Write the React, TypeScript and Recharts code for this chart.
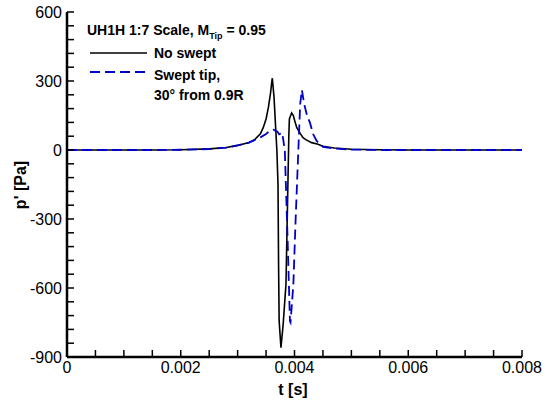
import { Line, LineChart, XAxis, YAxis } from "recharts";

// time [s] and pressure [Pa]
const noSweptT = [
  0, 0.0005, 0.001, 0.0015, 0.002, 0.0025, 0.0028, 0.003, 0.0032, 0.0033, 0.0034,
  0.00345, 0.0035, 0.00354, 0.00358, 0.0036, 0.00361, 0.00364, 0.00367, 0.00369,
  0.00371, 0.00372, 0.00373, 0.003762, 0.0038, 0.00385, 0.00388, 0.0039, 0.00391,
  0.00395, 0.00398, 0.004, 0.00404, 0.0041, 0.00415, 0.0042, 0.0043, 0.0044,
  0.0045, 0.0047, 0.005, 0.0055, 0.006, 0.007, 0.008,
];
const noSweptP = [
  0, 0, 0, 0, 1, 5, 11, 20, 33, 45, 70, 97, 135, 184, 250, 295, 312, 230, 90, 0,
  -150, -500, -743, -860, -760, -584, -200, 60, 135, 161, 150, 130, 97, 72, 54, 45,
  32, 26, 16, 9, 3, 1, 0, 0, 0,
];

const sweptT = [
  0, 0.0005, 0.001, 0.0015, 0.002, 0.0025, 0.0028, 0.003, 0.0032, 0.0034, 0.0035,
  0.00356, 0.00363, 0.0037, 0.00373, 0.003785, 0.00383, 0.00388, 0.00392, 0.00393,
  0.00398, 0.00402, 0.004067, 0.0041, 0.00413, 0.00417, 0.00422, 0.00427, 0.00433,
  0.00439, 0.0045, 0.0047, 0.005, 0.0055, 0.006, 0.007, 0.008,
];
const sweptP = [
  0, 0, 0, 0, 1, 4, 10, 20, 32, 55, 70, 83, 88, 80, 68, 75, -4, -400, -745, -750,
  -584, -300, -4, 200, 261, 200, 150, 120, 68, 39, 14, 6, 2, 0, 0, 0, 0,
];

// tick positions, labelled every 0.002 s and every 300 Pa
const xTicks = [
  0, 0.0005, 0.001, 0.0015, 0.002, 0.0025, 0.003, 0.0035, 0.004, 0.0045, 0.005,
  0.0055, 0.006, 0.0065, 0.007, 0.0075, 0.008,
];
const yTicks = [
  -900, -840, -780, -720, -660, -600, -540, -480, -420, -360, -300, -240, -180, -120,
  -60, 0, 60, 120, 180, 240, 300, 360, 420, 480, 540, 600,
];

const noSwept = noSweptT.map((t, i) => ({ t, p: noSweptP[i] }));
const swept = sweptT.map((t, i) => ({ t, p: sweptP[i] }));

const FONT = "'Liberation Sans', Arial, sans-serif";
const BLUE = "#0000c8";
const tickStyle = { fontSize: 16, fill: "#000", fontFamily: FONT };
const tickLine = { stroke: "#000", strokeWidth: 1.5 };
const frame = { stroke: "#000", strokeWidth: 2.5 };

function formatX(v: number) {
  if (Math.round(v / 0.0005) % 4 !== 0) return "";
  return v === 0 ? "0" : v.toFixed(3);
}

function formatY(v: number) {
  return v % 300 === 0 ? String(v) : "";
}

export default function App() {
  return (
    <div style={{ position: "absolute", left: 0, top: 0, width: 555, height: 400 }}>
      <LineChart width={555} height={400} margin={{ top: 12, right: 33, left: 0, bottom: 0 }}>
        <XAxis
          dataKey="t"
          type="number"
          domain={[0, 0.008]}
          ticks={xTicks}
          interval={0}
          height={43}
          tickSize={-7}
          tickMargin={12}
          tickFormatter={formatX}
          tick={tickStyle}
          tickLine={tickLine}
          axisLine={frame}
        />
        <XAxis
          xAxisId="top"
          orientation="top"
          type="number"
          domain={[0, 0.008]}
          height={0}
          tick={false}
          tickLine={false}
          axisLine={frame}
        />
        <YAxis
          type="number"
          domain={[-900, 600]}
          ticks={yTicks}
          interval={0}
          width={67}
          tickSize={-7}
          tickMargin={12}
          tickFormatter={formatY}
          tick={tickStyle}
          tickLine={tickLine}
          axisLine={frame}
        />
        <YAxis
          yAxisId="right"
          orientation="right"
          type="number"
          domain={[-900, 600]}
          width={0}
          tick={false}
          tickLine={false}
          axisLine={frame}
        />
        <Line
          data={noSwept}
          dataKey="p"
          type="linear"
          stroke="#000"
          strokeWidth={1.6}
          dot={false}
          isAnimationActive={false}
        />
        <Line
          data={swept}
          dataKey="p"
          type="linear"
          stroke={BLUE}
          strokeWidth={1.8}
          strokeDasharray="10 5"
          dot={false}
          isAnimationActive={false}
        />
      </LineChart>
      <svg
        width={555}
        height={400}
        style={{ position: "absolute", left: 0, top: 0, pointerEvents: "none" }}
        fontFamily={FONT}
      >
        <text x={87} y={35} fontSize={14} fontWeight="bold">
          UH1H 1:7 Scale, M
          <tspan fontSize={9} dy={4}>Tip</tspan>
          <tspan dy={-4}> = 0.95</tspan>
        </text>
        <line x1={90} x2={147} y1={53} y2={53} stroke="#000" strokeWidth={1.6} />
        <text x={154} y={58} fontSize={14} fontWeight="bold">No swept</text>
        <line x1={90} x2={147} y1={72} y2={72} stroke={BLUE} strokeWidth={1.8} strokeDasharray="10 5" />
        <text x={154} y={80} fontSize={14} fontWeight="bold">Swept tip,</text>
        <text x={154} y={100} fontSize={14} fontWeight="bold">30° from 0.9R</text>
        <text x={293} y={395} fontSize={16} fontWeight="bold" textAnchor="middle">t [s]</text>
        <text
          x={26}
          y={185}
          fontSize={16}
          fontWeight="bold"
          textAnchor="middle"
          transform="rotate(-90 26 185)"
        >
          p' [Pa]
        </text>
      </svg>
    </div>
  );
}
